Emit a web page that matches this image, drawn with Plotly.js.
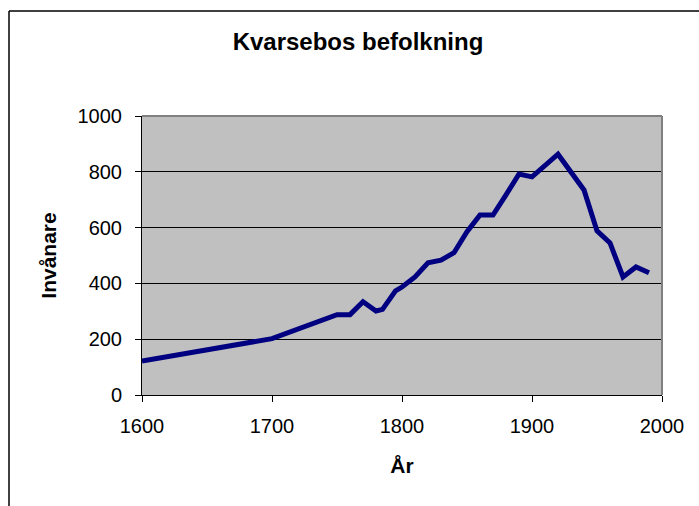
<!DOCTYPE html>
<html>
<head>
<meta charset="utf-8">
<script src="https://cdn.plot.ly/plotly-3.0.1.min.js"></script>
<style>
html,body{margin:0;padding:0;background:#fff;}
#chart{width:699px;height:506px;}
</style>
</head>
<body>
<div id="chart"></div>
<script>
const years = [1600, 1700, 1750, 1760, 1770, 1780, 1785, 1795, 1800, 1810, 1820, 1830, 1840, 1850, 1860, 1870, 1880, 1890, 1900, 1920, 1940, 1950, 1960, 1970, 1980, 1990];
const population = [122, 202, 288, 288, 334, 301, 307, 373, 387, 423, 474, 483, 510, 585, 645, 645, 717, 792, 782, 863, 735, 588, 545, 423, 459, 438];
const chartTitle = "Kvarsebos befolkning";
const xTitle = "År";
const yTitle = "Invånare";
const xTicks = [1600, 1700, 1800, 1900, 2000];
const yTicks = [0, 200, 400, 600, 800, 1000];

const font = "Arial, 'Liberation Sans', sans-serif";
const L = 142, R = 662, T = 116, B = 395, W = 699, H = 506;
const px = v => (v - L) / (R - L);
const py = v => (B - v) / (B - T);

const trace = {
  x: years, y: population, type: 'scatter', mode: 'lines',
  line: {color: '#000080', width: 5, shape: 'linear'},
  hoverinfo: 'x+y'
};

const layout = {
  width: W, height: H,
  margin: {l: L, r: W - R, t: T, b: H - B, pad: 0},
  paper_bgcolor: '#ffffff',
  plot_bgcolor: '#c0c0c0',
  showlegend: false,
  font: {family: font, size: 20, color: '#000'},
  title: {text: '<b>' + chartTitle + '</b>', font: {family: font, size: 24, color: '#000'},
          xref: 'container', x: 358/W, xanchor: 'center', yref: 'container', y: 1 - 42/H, yanchor: 'middle'},
  xaxis: {
    range: [1600, 2000], tickvals: xTicks, ticktext: xTicks.map(String),
    showgrid: false, zeroline: false,
    showline: true, linecolor: '#000', linewidth: 1,
    ticks: 'outside', ticklen: 6, tickcolor: '#000', tickwidth: 1,
    ticklabelstandoff: 7,
    tickfont: {family: font, size: 20, color: '#000'},
    title: {text: '<b>' + xTitle + '</b>', font: {family: font, size: 21, color: '#000'}, standoff: 22}
  },
  yaxis: {
    range: [0, 1000], tickvals: yTicks, ticktext: yTicks.map(String),
    showgrid: true, gridcolor: '#000', gridwidth: 1, zeroline: false,
    showline: true, linecolor: '#000', linewidth: 1,
    ticks: 'outside', ticklen: 6, tickcolor: '#000', tickwidth: 1,
    ticklabelstandoff: 9,
    tickfont: {family: font, size: 20, color: '#000'},
    title: {text: '<b>' + yTitle + '</b>', font: {family: font, size: 21, color: '#000'}, standoff: 15}
  },
  shapes: [
    {type: 'line', xref: 'paper', yref: 'paper', x0: px(L), x1: px(R), y0: 1, y1: 1,
     line: {color: '#808080', width: 2}},
    {type: 'line', xref: 'paper', yref: 'paper', x0: 1, x1: 1, y0: 0, y1: 1,
     line: {color: '#808080', width: 2}},
    {type: 'line', xref: 'paper', yref: 'paper', x0: px(9), x1: px(9), y0: py(11), y1: py(510),
     line: {color: '#000', width: 1.5}},
    {type: 'line', xref: 'paper', yref: 'paper', x0: px(9), x1: px(702), y0: py(11), y1: py(11),
     line: {color: '#000', width: 1.5}}
  ]
};

Plotly.newPlot('chart', [trace], layout, {displayModeBar: false, staticPlot: true});
</script>
</body>
</html>
